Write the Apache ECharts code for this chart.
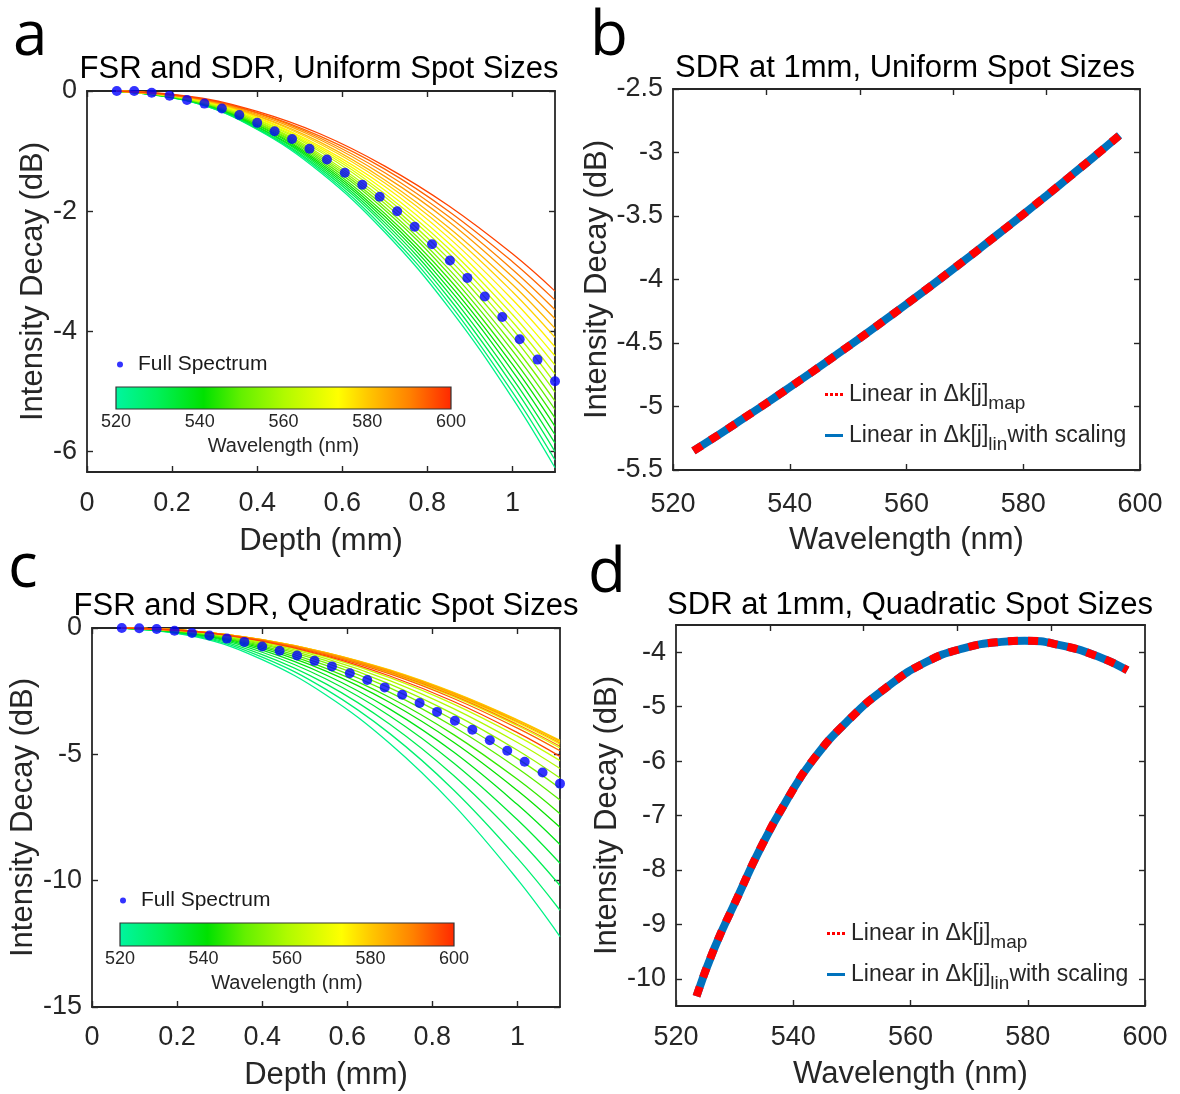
<!DOCTYPE html>
<html>
<head>
<meta charset="utf-8">
<script src="https://cdn.jsdelivr.net/npm/echarts@6.0.0/dist/echarts.min.js"></script>
<style>
  html, body { margin: 0; padding: 0; background: #fff; }
  #chart { width: 1180px; height: 1094px; }
</style>
</head>
<body>
<div id="chart"></div>
<script>
// ---- data ----
var depthDots = [0.07, 0.111, 0.152, 0.194, 0.235, 0.276, 0.317, 0.358, 0.40, 0.441, 0.482, 0.523, 0.564,
                 0.606, 0.647, 0.688, 0.729, 0.770, 0.811, 0.853, 0.894, 0.935, 0.976, 1.017, 1.059, 1.10];
var fullSpecA = [0, 0, -0.03, -0.08, -0.15, -0.21, -0.29, -0.40, -0.53, -0.67, -0.80, -0.96, -1.14,
                 -1.36, -1.56, -1.76, -2.00, -2.26, -2.55, -2.82, -3.11, -3.42, -3.76, -4.13, -4.47, -4.83];
var fullSpecC = [0, -0.01, -0.04, -0.11, -0.20, -0.30, -0.42, -0.55, -0.73, -0.90, -1.09, -1.30, -1.52,
                 -1.79, -2.06, -2.35, -2.64, -2.97, -3.32, -3.67, -4.03, -4.44, -4.86, -5.29, -5.72, -6.16];

var depthLines = [0.07, 0.25, 0.4, 0.55, 0.7, 0.85, 1.0, 1.1];
var lineWavelengths = [523.5, 527.2, 530.9, 534.5, 538.2, 541.9, 545.6, 549.2, 552.9, 556.6, 560.3,
                       563.9, 567.6, 571.3, 575.0, 578.6, 582.3, 586.0, 589.7, 593.3, 597.0];
// one row per wavelength, one column per depth in depthLines
var decayA = [
  [0, -0.19, -0.64, -1.36, -2.35, -3.60, -5.11, -6.27],
  [0, -0.19, -0.63, -1.33, -2.30, -3.52, -5.01, -6.14],
  [0, -0.18, -0.62, -1.30, -2.24, -3.44, -4.89, -6.00],
  [0, -0.18, -0.60, -1.27, -2.19, -3.36, -4.78, -5.86],
  [0, -0.17, -0.59, -1.24, -2.14, -3.28, -4.66, -5.72],
  [0, -0.17, -0.57, -1.21, -2.09, -3.20, -4.55, -5.58],
  [0, -0.17, -0.56, -1.18, -2.04, -3.12, -4.44, -5.44],
  [0, -0.16, -0.54, -1.15, -1.98, -3.04, -4.32, -5.30],
  [0, -0.16, -0.53, -1.12, -1.93, -2.96, -4.21, -5.16],
  [0, -0.15, -0.51, -1.09, -1.87, -2.87, -4.08, -5.01],
  [0, -0.15, -0.50, -1.06, -1.82, -2.79, -3.96, -4.86],
  [0, -0.14, -0.48, -1.02, -1.76, -2.70, -3.84, -4.71],
  [0, -0.14, -0.47, -0.99, -1.71, -2.62, -3.72, -4.56],
  [0, -0.13, -0.45, -0.96, -1.65, -2.53, -3.60, -4.41],
  [0, -0.13, -0.44, -0.93, -1.59, -2.44, -3.47, -4.26],
  [0, -0.13, -0.42, -0.89, -1.53, -2.35, -3.34, -4.10],
  [0, -0.12, -0.41, -0.86, -1.48, -2.27, -3.22, -3.95],
  [0, -0.12, -0.39, -0.82, -1.42, -2.17, -3.09, -3.79],
  [0, -0.11, -0.37, -0.79, -1.36, -2.09, -2.97, -3.64],
  [0, -0.11, -0.36, -0.76, -1.30, -2.00, -2.84, -3.48],
  [0, -0.10, -0.34, -0.72, -1.25, -1.91, -2.71, -3.33]
];
var decayC = [
  [0, -0.37, -1.25, -2.65, -4.57, -7.00, -9.95, -12.21],
  [0, -0.34, -1.15, -2.43, -4.18, -6.41, -9.11, -11.17],
  [0, -0.31, -1.05, -2.21, -3.81, -5.84, -8.31, -10.19],
  [0, -0.28, -0.96, -2.02, -3.48, -5.34, -7.59, -9.31],
  [0, -0.26, -0.88, -1.86, -3.21, -4.91, -6.99, -8.57],
  [0, -0.24, -0.81, -1.71, -2.95, -4.52, -6.43, -7.89],
  [0, -0.22, -0.75, -1.60, -2.75, -4.22, -5.99, -7.35],
  [0, -0.21, -0.70, -1.48, -2.55, -3.91, -5.55, -6.81],
  [0, -0.19, -0.65, -1.38, -2.37, -3.64, -5.17, -6.34],
  [0, -0.18, -0.61, -1.29, -2.22, -3.41, -4.84, -5.94],
  [0, -0.17, -0.57, -1.21, -2.08, -3.19, -4.53, -5.56],
  [0, -0.16, -0.54, -1.14, -1.96, -3.01, -4.28, -5.25],
  [0, -0.14, -0.49, -1.03, -1.78, -2.72, -3.87, -4.75],
  [0, -0.14, -0.47, -1.00, -1.72, -2.64, -3.75, -4.60],
  [0, -0.14, -0.46, -0.98, -1.68, -2.58, -3.67, -4.50],
  [0, -0.14, -0.46, -0.97, -1.66, -2.55, -3.63, -4.45],
  [0, -0.14, -0.46, -0.97, -1.68, -2.57, -3.65, -4.48],
  [0, -0.14, -0.47, -0.99, -1.70, -2.61, -3.71, -4.55],
  [0, -0.14, -0.48, -1.02, -1.75, -2.68, -3.82, -4.68],
  [0, -0.15, -0.50, -1.06, -1.82, -2.79, -3.96, -4.86],
  [0, -0.15, -0.52, -1.10, -1.90, -2.91, -4.14, -5.08]
];

var sdrWavelengthB = [523.5, 528, 532, 536, 540, 544, 548, 552, 556, 560, 564, 568, 572, 576, 580, 584, 588, 592, 596.5];
var sdrMapB = [-5.350, -5.217, -5.096, -4.974, -4.849, -4.722, -4.593, -4.462, -4.329, -4.194,
               -4.057, -3.917, -3.776, -3.632, -3.487, -3.339, -3.189, -3.038, -2.864];
var sdrLinB = [-5.350, -5.217, -5.096, -4.974, -4.849, -4.722, -4.593, -4.462, -4.329, -4.194,
               -4.057, -3.917, -3.776, -3.632, -3.487, -3.339, -3.189, -3.038, -2.864];

var sdrWavelengthD = [523.5, 526.5, 530.5, 534.5, 539, 543.5, 549.5, 556, 562.5, 569, 575.5, 579.5, 585.5, 592, 597];
var sdrMapD = [-10.32, -9.45, -8.50, -7.58, -6.70, -5.96, -5.24, -4.64, -4.19, -3.93, -3.81, -3.79, -3.87, -4.08, -4.33];
var sdrLinD = [-10.32, -9.45, -8.50, -7.58, -6.70, -5.96, -5.24, -4.64, -4.19, -3.93, -3.81, -3.79, -3.87, -4.08, -4.33];

// tick labels
var depthTicks = [0, 0.2, 0.4, 0.6, 0.8, 1];
var decayTicksA = [0, -2, -4, -6];
var decayTicksC = [0, -5, -10, -15];
var wlTicks = [520, 540, 560, 580, 600];
var wlTopTicks = [536, 552, 568, 584];
var sdrTicksB = [-2.5, -3, -3.5, -4, -4.5, -5, -5.5];
var sdrTicksD = [-4, -5, -6, -7, -8, -9, -10];
var barTicks = [520, 540, 560, 580, 600];

var NAME_DOTS = 'Full Spectrum';
var NAME_MAP = 'Linear in Δk[j]map';
var NAME_LIN = 'Linear in Δk[j]lin with scaling';

// ---- styling ----
var FONT = '"Liberation Sans", Arial, sans-serif';
var INK = '#262626';
var RED = '#FF0000', BLUE = '#0072BD';
var barStops = [[520, '#00F5A0'], [530, '#00F05A'], [541, '#00E100'], [550, '#64F000'], [560, '#AFFA00'],
                [573, '#FFFF00'], [580, '#FFC800'], [590, '#FF8200'], [600, '#FF2800']];

function hexRgb(h) {
  return [parseInt(h.substr(1, 2), 16), parseInt(h.substr(3, 2), 16), parseInt(h.substr(5, 2), 16)];
}
function wlColor(wl) {
  for (var i = 0; i < barStops.length - 1; i++) {
    var a = barStops[i], b = barStops[i + 1];
    if (wl <= b[0]) {
      var t = Math.max(0, (wl - a[0]) / (b[0] - a[0]));
      var ca = hexRgb(a[1]), cb = hexRgb(b[1]);
      return 'rgb(' + [0, 1, 2].map(function (k) { return Math.round(ca[k] + (cb[k] - ca[k]) * t); }).join(',') + ')';
    }
  }
  return barStops[barStops.length - 1][1];
}
var barGradient = {
  type: 'linear', x: 0, y: 0, x2: 1, y2: 0,
  colorStops: barStops.map(function (s) { return { offset: (s[0] - 520) / 80, color: s[1] }; })
};

var frameLine = { show: true, onZero: false, lineStyle: { color: INK, width: 1.8 } };
var tickLine = { color: INK, width: 1.4 };

function xAxes(gi, min, max, ticks, topTicks, name, labelGap, nameGap) {
  return [{
    type: 'value', gridIndex: gi, position: 'bottom', min: min, max: max,
    axisLine: frameLine,
    axisTick: { inside: true, length: 6, customValues: ticks, lineStyle: tickLine },
    axisLabel: { customValues: ticks, color: INK, fontSize: 27, margin: labelGap },
    splitLine: { show: false },
    name: name, nameLocation: 'middle', nameGap: nameGap,
    nameTextStyle: { color: INK, fontSize: 31 }
  }, {
    type: 'value', gridIndex: gi, position: 'top', min: min, max: max,
    axisLine: frameLine,
    axisTick: { inside: true, length: 6, customValues: topTicks, lineStyle: tickLine },
    axisLabel: { show: false }, splitLine: { show: false }
  }];
}
function yAxes(gi, min, max, ticks, nameGap) {
  return [{
    type: 'value', gridIndex: gi, position: 'left', min: min, max: max,
    axisLine: frameLine,
    axisTick: { inside: true, length: 6, customValues: ticks, lineStyle: tickLine },
    axisLabel: { customValues: ticks, color: INK, fontSize: 27, margin: 10 },
    splitLine: { show: false },
    name: 'Intensity Decay (dB)', nameLocation: 'middle', nameGap: nameGap,
    nameTextStyle: { color: INK, fontSize: 31 }
  }, {
    type: 'value', gridIndex: gi, position: 'right', min: min, max: max,
    axisLine: frameLine,
    axisTick: { inside: true, length: 6, customValues: ticks, lineStyle: tickLine },
    axisLabel: { show: false }, splitLine: { show: false }
  }];
}
function barAxes(gi) {
  return {
    x: {
      type: 'value', gridIndex: gi, min: 520, max: 600, interval: 20,
      axisLine: { show: false }, axisTick: { show: false }, splitLine: { show: false },
      axisLabel: { customValues: barTicks, color: INK, fontSize: 18, margin: 4 },
      name: 'Wavelength (nm)', nameLocation: 'middle', nameGap: 27,
      nameTextStyle: { color: INK, fontSize: 20 }
    },
    y: { type: 'value', gridIndex: gi, min: 0, max: 1, show: false }
  };
}

var barA = barAxes(4), barC = barAxes(5);
var xAxis = [].concat(
  xAxes(0, 0, 1.1, depthTicks, depthTicks, 'Depth (mm)', 18, 54),
  xAxes(1, 520, 600, wlTicks, wlTopTicks, 'Wavelength (nm)', 21, 55),
  xAxes(2, 0, 1.1, depthTicks, depthTicks, 'Depth (mm)', 17, 53),
  xAxes(3, 520, 600, wlTicks, wlTopTicks, 'Wavelength (nm)', 18, 53),
  [barA.x, barC.x]
);
var yAxis = [].concat(
  yAxes(0, -6.34, 0, decayTicksA, 37),
  yAxes(1, -5.5, -2.5, sdrTicksB, 51),
  yAxes(2, -15, 0, decayTicksC, 53),
  yAxes(3, -10.5, -3.5, sdrTicksD, 51),
  [barA.y, barC.y]
);

var series = [];
function addFamily(rows, xi, yi, tag) {
  lineWavelengths.forEach(function (wl, i) {
    series.push({
      type: 'line', name: tag + wl, xAxisIndex: xi, yAxisIndex: yi,
      data: depthLines.map(function (z, j) { return [z, rows[i][j]]; }),
      smooth: 0.4, symbol: 'none', silent: true, z: 2,
      lineStyle: { color: wlColor(wl), width: 1.3 }
    });
  });
}
function addDots(vals, xi, yi) {
  series.push({
    type: 'scatter', name: NAME_DOTS, xAxisIndex: xi, yAxisIndex: yi,
    data: depthDots.map(function (z, j) { return [z, vals[j]]; }),
    symbol: 'circle', symbolSize: 10, itemStyle: { color: '#0000FF' }, z: 5, silent: true
  });
}
function addSdr(wls, linVals, mapVals, xi, yi) {
  series.push({
    type: 'line', name: NAME_LIN, xAxisIndex: xi, yAxisIndex: yi,
    data: wls.map(function (w, j) { return [w, linVals[j]]; }),
    smooth: 0.5, symbol: 'none', silent: true, z: 2,
    itemStyle: { color: BLUE },
    lineStyle: { color: BLUE, width: 8, cap: 'butt' }
  });
  series.push({
    type: 'line', name: NAME_MAP, xAxisIndex: xi, yAxisIndex: yi,
    data: wls.map(function (w, j) { return [w, mapVals[j]]; }),
    smooth: 0.5, symbol: 'none', silent: true, z: 3,
    itemStyle: { color: RED },
    lineStyle: { color: RED, width: 8, type: [10, 10], cap: 'butt' }
  });
}
addFamily(decayA, 0, 0, 'a');
addDots(fullSpecA, 0, 0);
addSdr(sdrWavelengthB, sdrLinB, sdrMapB, 2, 2);
addFamily(decayC, 4, 4, 'c');
addDots(fullSpecC, 4, 4);
addSdr(sdrWavelengthD, sdrLinD, sdrMapD, 6, 6);

function dotLegend(left, top) {
  return {
    left: left, top: top, padding: 0, selectedMode: false,
    data: [{ name: NAME_DOTS, icon: 'circle' }],
    itemWidth: 26, itemHeight: 6,
    textStyle: { color: '#1a1a1a', fontSize: 21 }
  };
}
function sdrLegend(left, top) {
  return {
    left: left, top: top, padding: 0, orient: 'vertical', itemGap: 11, selectedMode: false,
    itemWidth: 20, itemHeight: 3,
    data: [
      { name: NAME_MAP, icon: 'path://M0,0h3v3h-3z M5,0h3v3h-3z M10,0h3v3h-3z M15,0h3v3h-3z', itemStyle: { color: RED } },
      { name: NAME_LIN, icon: 'path://M0,0h18v3h-18z', itemStyle: { color: BLUE } }
    ],
    formatter: function (name) {
      return name === NAME_MAP
        ? '{t|Linear in Δk[j]}{s|map}'
        : '{t|Linear in Δk[j]}{s|lin}{t|with scaling}';
    },
    textStyle: {
      color: INK,
      rich: {
        t: { fontSize: 23, color: INK },
        s: { fontSize: 19, color: INK, padding: [18, 0, 0, 0] }
      }
    }
  };
}

function label(text, x, y, size, family, align) {
  return {
    type: 'text', x: x, y: y, silent: true,
    style: { text: text, fontSize: size, fontFamily: family, fill: '#000', align: align, verticalAlign: 'middle' }
  };
}

var option = {
  animation: false,
  backgroundColor: '#fff',
  textStyle: { fontFamily: FONT },
  grid: [
    { left: 87, top: 91, width: 468, height: 381 },
    { left: 673, top: 89, width: 467, height: 381 },
    { left: 92, top: 628, width: 468, height: 379 },
    { left: 676, top: 625, width: 469, height: 381 },
    { left: 116, top: 387, width: 335, height: 22, show: true, backgroundColor: barGradient, borderColor: '#333', borderWidth: 1.2 },
    { left: 120, top: 923, width: 334, height: 23, show: true, backgroundColor: barGradient, borderColor: '#333', borderWidth: 1.2 }
  ],
  xAxis: xAxis,
  yAxis: yAxis,
  legend: [dotLegend(117, 354), sdrLegend(825, 383), dotLegend(120, 890), sdrLegend(827, 922)],
  series: series,
  graphic: [
    label('FSR and SDR, Uniform Spot Sizes', 319, 69, 31, FONT, 'center'),
    label('SDR at 1mm, Uniform Spot Sizes', 905, 68, 31, FONT, 'center'),
    label('FSR and SDR, Quadratic Spot Sizes', 326, 606, 31, FONT, 'center'),
    label('SDR at 1mm, Quadratic Spot Sizes', 910, 605, 31, FONT, 'center'),
    label('a', 13, 37, 62, '"Open Sans", sans-serif', 'left'),
    label('b', 590, 37, 62, '"Open Sans", sans-serif', 'left'),
    label('c', 8, 569, 62, '"Open Sans", sans-serif', 'left'),
    label('d', 588, 574, 62, '"Open Sans", sans-serif', 'left')
  ]
};

var chart = echarts.init(document.getElementById('chart'), null, { renderer: 'canvas' });
chart.setOption(option);
</script>
</body>
</html>
